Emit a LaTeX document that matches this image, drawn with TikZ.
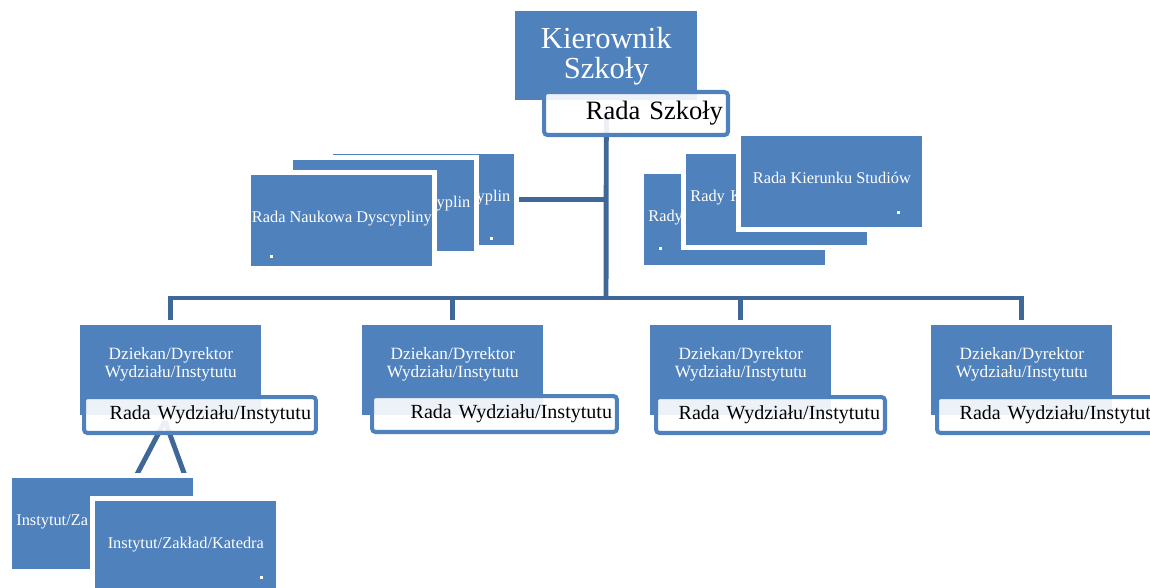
\documentclass[tikz,border=0pt]{standalone}
\usepackage{fontspec}
\setmainfont{Liberation Serif}
\usetikzlibrary{positioning,backgrounds}
\definecolor{cardblue}{HTML}{4F81BD}
\definecolor{connblue}{HTML}{3F6797}
\newcommand{\cardfont}{\fontsize{9.3}{11}\selectfont}

\tikzset{
  box/.style={fill=cardblue,preaction={draw=white,line width=5.6pt},text=white,anchor=north west,inner sep=0pt},
  card/.style={box,font=\cardfont,minimum width=3.62cm,minimum height=1.82cm,inner xsep=0.08cm,text height=0.7em,text depth=0.5em},
  cardR/.style={card,text width=3.46cm,align=right},
  cardL/.style={card,text width=3.46cm,align=left},
  dzbox/.style={box,minimum width=3.62cm,minimum height=1.8cm},
  dztext/.style={text=white,font=\fontsize{9.8}{8.6}\selectfont,align=center,yshift=3.4pt},
  rada/.style={draw=cardblue,line width=2.3pt,fill=white,fill opacity=0.9,text opacity=1,rounded corners=2pt,anchor=north west,inner xsep=0.1cm,inner ysep=0pt,align=right},
  conn/.style={draw=connblue,line width=2.8pt}
}

\begin{document}
\begin{tikzpicture}[x=0.02cm,y=-0.02cm]
  \path[use as bounding box,clip] (0,0) rectangle (1150,588);

  \node(kier)[box,minimum width=3.64cm,minimum height=1.78cm,align=center,font=\fontsize{17.4}{17}\selectfont] at (515,11) {Kierownik\\Szkoły};
  \node(radaS)[rada,text width=3.48cm,minimum height=0.86cm,font=\fontsize{15.1}{17}\selectfont] at (542,90) {Rada Szkoły};

  \node(nk3)[cardR] at (333,154) {yplin};
  \fill[white] (490,237) rectangle ++(3,3);
  \node(nk2)[cardR] at (293,160) {yplin};
  \node(nk1)[card,inner xsep=0pt] at (251,175) {Rada Naukowa Dyscypliny};
  \fill[white] (270,255) rectangle ++(3,3);

  \node(rk3)[cardL] at (644,174) {Rady};
  \fill[white] (659,247) rectangle ++(3,3);
  \node(rk2)[cardL] at (686,154) {Rady K};
  \node(rk1)[card] at (741,136) {Rada Kierunku Studiów};
  \fill[white] (897,211) rectangle ++(3,3);

  \node(dz1)[dzbox,label={[dztext]center:Dziekan/Dyrektor\\Wydziału/Instytutu}] at (80,325) {};
  \node(dz2)[dzbox,label={[dztext]center:Dziekan/Dyrektor\\Wydziału/Instytutu}] at (362,325) {};
  \node(dz3)[dzbox,label={[dztext]center:Dziekan/Dyrektor\\Wydziału/Instytutu}] at (650,325) {};
  \node(dz4)[dzbox,label={[dztext]center:Dziekan/Dyrektor\\Wydziału/Instytutu}] at (931,325) {};

  \node(rw1)[rada,text width=4.44cm,minimum height=0.72cm,font=\fontsize{11.4}{13}\selectfont] at (82,395) {Rada Wydziału/Instytutu};
  \node(rw2)[rada,text width=4.70cm,minimum height=0.72cm,font=\fontsize{11.4}{13}\selectfont] at (370,394) {Rada Wydziału/Instytutu};
  \node(rw3)[rada,text width=4.38cm,minimum height=0.72cm,font=\fontsize{11.4}{13}\selectfont] at (654,395) {Rada Wydziału/Instytutu};
  \node(rw4)[rada,text width=4.38cm,minimum height=0.72cm,font=\fontsize{11.4}{13}\selectfont] at (935,395) {Rada Wydziału/Instytutu};

  \node(in1)[cardL] at (12,478) {Instytut/Za};
  \node(in2)[card] at (95,501) {Instytut/Zakład/Katedra};
  \fill[white] (260,576) rectangle ++(3,3);

  \coordinate(hub) at (606,298);
  \coordinate(split) at (165,421);
  \coordinate(fork) at (135,478);
  \begin{pgfonlayer}{background}
    \draw[conn](kier.south |- radaS.center) -- (hub);
    \draw[conn](kier.south |- nk3.east) -- (nk3.east);
    \draw[conn](dz1.north) -- (dz1.north |- hub) -- (dz4.north |- hub) -- (dz4.north);
    \draw[conn](dz2.north |- hub) -- (dz2.north);
    \draw[conn](dz3.north |- hub) -- (dz3.north);
    \draw[conn](split) -- (fork);
    \draw[conn](split) -- (in2.north |- in1.north);
  \end{pgfonlayer}
\end{tikzpicture}
\end{document}
